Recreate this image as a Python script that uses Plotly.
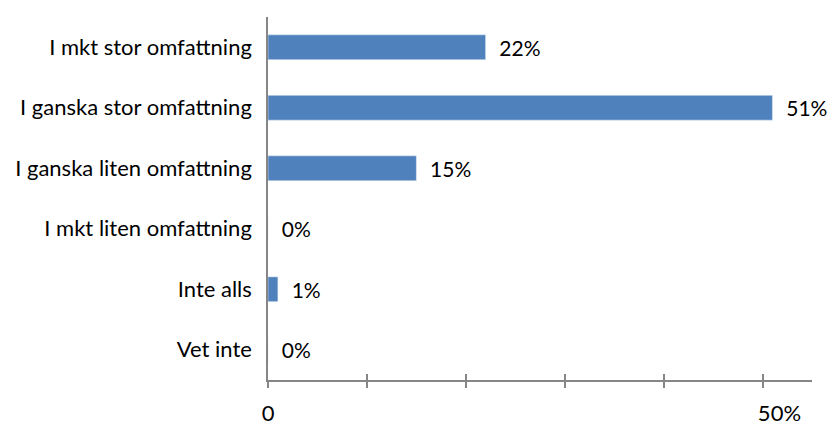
import plotly.graph_objects as go

categories = ["I mkt stor omfattning", "I ganska stor omfattning", "I ganska liten omfattning",
              "I mkt liten omfattning", "Inte alls", "Vet inte"]
values = [22, 51, 15, 0, 1, 0]
tick_vals = [0, 10, 20, 30, 40, 50]
tick_text = ["0", "", "", "", "", "      50%"]

FONT = "Lato"
AXIS = "#868686"

fig = go.Figure()
fig.add_trace(go.Bar(
    x=values, y=categories, orientation="h",
    marker=dict(color="#4F81BD", line=dict(width=0)),
    text=["  " + f"{v}%" for v in values], textposition="outside",
    textfont=dict(family=FONT, size=21, color="#000000"),
    constraintext="none", cliponaxis=False, hoverinfo="skip",
))
fig.add_trace(go.Bar(
    x=values, y=categories, orientation="h", xaxis="x2",
    marker=dict(color="rgba(0,0,0,0)"), hoverinfo="skip", showlegend=False,
))

fig.update_layout(
    width=832, height=424,
    margin=dict(l=268, r=20, t=17, b=44, autoexpand=False),
    paper_bgcolor="white", plot_bgcolor="white",
    showlegend=False, bargap=0.59, barmode="overlay",
    font=dict(family=FONT, color="#000000"),
    xaxis=dict(range=[0, 55], tickvals=tick_vals, ticktext=tick_text,
               ticks="outside", ticklen=6, tickwidth=1.5, tickcolor=AXIS,
               showline=True, linecolor=AXIS, linewidth=1.5, automargin=False,
               showgrid=False, zeroline=False, ticklabelstandoff=7,
               tickfont=dict(family=FONT, size=22, color="#000000")),
    xaxis2=dict(range=[0, 55], overlaying="x", anchor="y", side="bottom",
                tickvals=tick_vals, showticklabels=False, automargin=False,
                ticks="inside", ticklen=6, tickwidth=1.5, tickcolor=AXIS,
                showline=False, showgrid=False, zeroline=False),
    yaxis=dict(autorange="reversed", showline=True, linecolor=AXIS, linewidth=1.5,
               ticks="", showgrid=False, zeroline=False, ticklabelstandoff=10,
               automargin=False,
               tickfont=dict(family=FONT, size=22, color="#000000")),
)

# remove the browser's default page margin so the figure fills the window exactly
fig.write_html("out.html", config={"displayModeBar": False},
               post_script="document.body.style.margin='0';")
